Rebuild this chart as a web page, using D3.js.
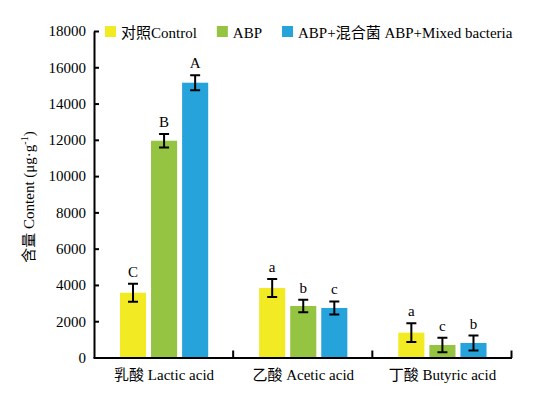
<!DOCTYPE html>
<meta charset="utf-8">
<style>
body { margin: 0; background: #fff; }
text { font-family: "Liberation Serif", "Noto Sans CJK SC", serif; fill: #000; }
.axis path, .axis line { stroke: #000; stroke-width: 2px; }
.err { stroke: #000; stroke-width: 2px; fill: none; }
</style>
<script src="https://d3js.org/d3.v7.min.js"></script>
<body>
<div id="chart"></div>
</body>
<script>
// groups and series
var groups = ["乳酸 Lactic acid", "乙酸 Acetic acid", "丁酸 Butyric acid"];
var series = ["对照Control", "ABP", "ABP+混合菌 ABP+Mixed bacteria"];
var colors = ["#f2ea23", "#95c442", "#27a3dc"];

// values per series, one per group
var control = [3570, 3830, 1370];
var abp = [11950, 2840, 690];
var mixed = [15150, 2730, 800];
// standard errors
var controlErr = [500, 500, 520];
var abpErr = [370, 340, 400];
var mixedErr = [410, 360, 410];
// significance letters
var controlSig = ["C", "a", "a"];
var abpSig = ["B", "b", "c"];
var mixedSig = ["A", "c", "b"];

var yTicks = [0, 2000, 4000, 6000, 8000, 10000, 12000, 14000, 16000, 18000];

var values = [control, abp, mixed];
var errs = [controlErr, abpErr, mixedErr];
var sigs = [controlSig, abpSig, mixedSig];

var width = 547, height = 399;
var pLeft = 94.5, pRight = 512, pTop = 31, pBottom = 357.5;

var svg = d3.select("#chart").append("svg")
    .attr("width", width)
    .attr("height", height);

var x0 = d3.scaleBand().domain(groups).range([pLeft, pRight]).padding(0);
var x1 = d3.scaleBand().domain(d3.range(series.length))
    .range([0, x0.bandwidth()])
    .paddingInner(0.16)
    .paddingOuter(0.82);
var y = d3.scaleLinear().domain([0, 18000]).range([pBottom, pTop]);

// build rows for drawing
var rows = [];
groups.forEach(function(g, gi) {
  series.forEach(function(s, si) {
    rows.push({g: g, si: si, v: values[si][gi], e: errs[si][gi], sig: sigs[si][gi]});
  });
});

// bars
svg.append("g").selectAll("rect")
    .data(rows)
  .enter().append("rect")
    .attr("x", function(d) { return x0(d.g) + x1(d.si); })
    .attr("y", function(d) { return y(d.v); })
    .attr("width", x1.bandwidth())
    .attr("height", function(d) { return y(0) - y(d.v); })
    .style("fill", function(d) { return colors[d.si]; });

// error bars
var eb = svg.append("g").selectAll("g")
    .data(rows)
  .enter().append("g")
    .attr("transform", function(d) {
      return "translate(" + (x0(d.g) + x1(d.si) + x1.bandwidth() / 2) + ",0)";
    });
eb.append("path")
    .attr("class", "err")
    .attr("d", function(d) {
      var t = y(d.v + d.e), b = y(d.v - d.e);
      return "M-5," + t + "H5M0," + t + "V" + b + "M-5," + b + "H5";
    });
eb.append("text")
    .attr("y", function(d) { return y(d.v + d.e) - 7; })
    .attr("text-anchor", "middle")
    .style("font-size", "15px")
    .text(function(d) { return d.sig; });

// y axis
svg.append("g")
    .attr("class", "axis")
    .attr("transform", "translate(" + (pLeft - 0.5) + ",0)")
    .call(d3.axisLeft(y).tickValues(yTicks).tickFormat(d3.format("d"))
      .tickSizeInner(-5).tickSizeOuter(0).tickPadding(8))
    .call(function(g) { g.selectAll("text").style("font-size", "15px"); });

// x axis
var xa = svg.append("g")
    .attr("class", "axis")
    .attr("transform", "translate(0," + pBottom + ")")
    .call(d3.axisBottom(x0).tickSizeInner(0).tickSizeOuter(0).tickPadding(12));
xa.selectAll("text").style("font-size", "15px");
xa.select(".domain").attr("d", "M" + (pLeft - 1) + ",0.5H" + pRight);
xa.selectAll(".sep")
    .data(groups)
  .enter().append("line")
    .attr("x1", function(g) { return x0(g) + x0.step() - 0.5; })
    .attr("x2", function(g) { return x0(g) + x0.step() - 0.5; })
    .attr("y1", 0.5)
    .attr("y2", -7);

// y label
var yl = svg.append("text")
    .attr("transform", "translate(34,197) rotate(-90)")
    .attr("text-anchor", "middle")
    .style("font-size", "15px");
yl.append("tspan").text("含量 Content (μg·g");
yl.append("tspan").attr("dy", "-6").style("font-size", "10px").text("-1");
yl.append("tspan").attr("dy", "6").text(")");

// legend
var lx = 105;
series.forEach(function(s, i) {
  svg.append("rect")
      .attr("x", lx).attr("y", 26)
      .attr("width", 11).attr("height", 11)
      .style("fill", colors[i]);
  var t = svg.append("text")
      .attr("x", lx + 16).attr("y", 37.5)
      .style("font-size", "15px")
      .text(s);
  lx += 16 + t.node().getComputedTextLength() + 20;
});
</script>
